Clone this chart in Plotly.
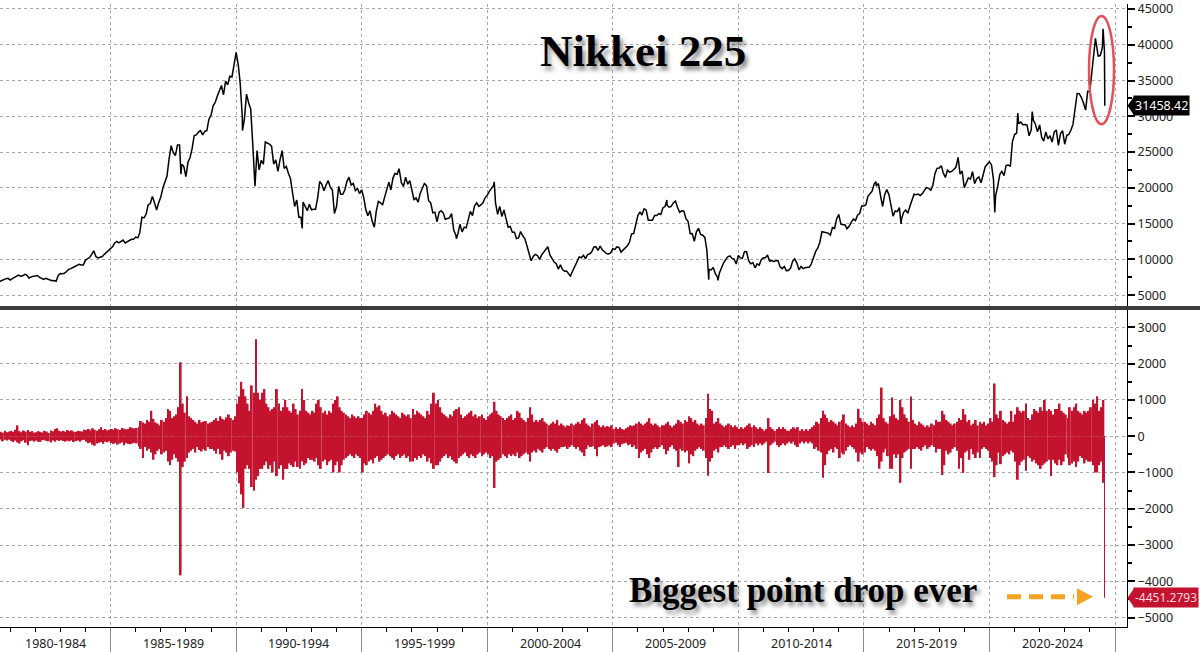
import pandas as pd
import plotly.graph_objects as go

# ---------------- DATA ----------------
# Nikkei 225 month-end closes, Jul 1980 .. Jul 2024
price_close = [
    6900, 7050, 7150, 7300, 7350, 7116,                                        # 1980 Jul-Dec
    7300, 7450, 7600, 7800, 7650, 7700, 7900, 7800, 7400, 7550, 7650, 7681,    # 1981
    7750, 7500, 7300, 7200, 7350, 7250, 7150, 7000, 7050, 6950, 7750, 8016,    # 1982
    8000, 8050, 8300, 8600, 8700, 8900, 9000, 9150, 9300, 9200, 9200, 9894,    # 1983
    10050, 10250, 10700, 11200, 10400, 10200, 10300, 10400, 10700, 11000, 11300, 11543,  # 1984
    11800, 12300, 12500, 12300, 12500, 12700, 12300, 12500, 12700, 12800, 12800, 13113,  # 1985
    13000, 13700, 15900, 15800, 16300, 17600, 17800, 18800, 17900, 16900, 17900, 18701,  # 1986
    20000, 20800, 21600, 24000, 25900, 24900, 24500, 26000, 26000, 23300, 23000, 21564,  # 1987
    23600, 24200, 25500, 27300, 27400, 27800, 28000, 27400, 27900, 28000, 29600, 30159,  # 1988
    31500, 31900, 32800, 33700, 34300, 33000, 34900, 34400, 35600, 35500, 37300, 38916,  # 1989
    37200, 34600, 29900, 29600, 33100, 31900, 31000, 25900, 20984, 25200, 22500, 23849,  # 1990
    23300, 26400, 26300, 26100, 25800, 23300, 23900, 22300, 23900, 25200, 22700, 22984,  # 1991
    22000, 21300, 19300, 17400, 18300, 15900, 15900, 18000, 17400, 16800, 17700, 16925,  # 1992
    17000, 17000, 18600, 20900, 20500, 19600, 20400, 21000, 20100, 19700, 16400, 17417,  # 1993
    20200, 19100, 19100, 19700, 20900, 21500, 20400, 20600, 19600, 19900, 19200, 19723,  # 1994
    18600, 17000, 16100, 16800, 15400, 14500, 16700, 18100, 17900, 17600, 18700, 19868,  # 1995
    20800, 19700, 21400, 22000, 21900, 22500, 20700, 20200, 21500, 20500, 21000, 19361,  # 1996
    18300, 18600, 18000, 19200, 20000, 20600, 20300, 18200, 17900, 16500, 16600, 15259,  # 1997
    16600, 16800, 16500, 15600, 15700, 15800, 16400, 14100, 13400, 13600, 14900, 13842,  # 1998
    14500, 14400, 15800, 16700, 16100, 17500, 17900, 17400, 17600, 17900, 18600, 18934,  # 1999
    19500, 19900, 20300, 17900, 16300, 17400, 16000, 16900, 15700, 14500, 14600, 13786,  # 2000
    13800, 12900, 13000, 13900, 13300, 12900, 11900, 10700, 9800, 10400, 10700, 10543,   # 2001
    9990, 10590, 11030, 11490, 11760, 10620, 10000, 9620, 9380, 8640, 9220, 8579,        # 2002
    8340, 8360, 7970, 7830, 8420, 9080, 9560, 10340, 10220, 10560, 10100, 10677,         # 2003
    10780, 11040, 11720, 11760, 11240, 11860, 11330, 11080, 10820, 10770, 10900, 11489,  # 2004
    11390, 11740, 11670, 11010, 11280, 11580, 11900, 12400, 13570, 13610, 14870, 16111,  # 2005
    16650, 16200, 17060, 16910, 15470, 15510, 15460, 16140, 16130, 16400, 16270, 17226,  # 2006
    17380, 17600, 17290, 17400, 17880, 18140, 17250, 16570, 16790, 16740, 15680, 15308,  # 2007
    13590, 13600, 12530, 13850, 14340, 13480, 13380, 13070, 11260, 8580, 8510, 8860,     # 2008
    7990, 7570, 8110, 8830, 9520, 9960, 10360, 10490, 10130, 10030, 9350, 10546,         # 2009
    10200, 10130, 11090, 11060, 9770, 9380, 9540, 8820, 9370, 9200, 9940, 10229,         # 2010
    10240, 10620, 9760, 9850, 9690, 9820, 9830, 8950, 8700, 8990, 8430, 8455,            # 2011
    8800, 9720, 10080, 9520, 8540, 9010, 8700, 8840, 8870, 8930, 9450, 10395,            # 2012
    11140, 11560, 12400, 13860, 13770, 13680, 13670, 13390, 14460, 14330, 15660, 16291,  # 2013
    14910, 14840, 14830, 14300, 14630, 15160, 15620, 15420, 16170, 16410, 17460, 17451,  # 2014
    17670, 18800, 19210, 19520, 20560, 20240, 20590, 18890, 17390, 19080, 19750, 19034,  # 2015
    17520, 16030, 16760, 16670, 17230, 15580, 16570, 16890, 16450, 17430, 18310, 19114,  # 2016
    19040, 19120, 18910, 19200, 19650, 20030, 19930, 19650, 20360, 22010, 22720, 22765,  # 2017
    23100, 22070, 21450, 22470, 22200, 22300, 22550, 22870, 24120, 21920, 22350, 20015,  # 2018
    20770, 21380, 21210, 22260, 20600, 21280, 21520, 20700, 21760, 22930, 23290, 23657,  # 2019
    23200, 21140, 18920, 20190, 21880, 22290, 21710, 23140, 23190, 22980, 26430, 27444,  # 2020
    27660, 28970, 29180, 28810, 28860, 28790, 27280, 28090, 29450, 28890, 27820, 28792,  # 2021
    27000, 26530, 27820, 26850, 27280, 26390, 27800, 28090, 25940, 27590, 27970, 26095,  # 2022
    27330, 27450, 28040, 28860, 30890, 33190, 33170, 32620, 31860, 30860, 33490, 33464,  # 2023
    36290, 39170, 40370, 38410, 38490, 39580, 39100,                                     # 2024 Jan-Jul
]

# notable intra-month extremes
price_extra_dates = [
    "1987-10-20", "1990-04-02", "1990-10-01", "1992-08-18", "1995-07-03",
    "1996-06-26", "1998-10-09", "2000-04-12", "2003-04-28", "2007-02-26",
    "2008-10-27", "2009-03-10", "2015-06-24", "2016-06-24", "2018-10-02",
    "2020-03-19", "2021-02-16", "2021-09-14", "2024-03-22", "2024-07-11",
    "2024-08-02", "2024-08-05",
]
price_extra_values = [
    21910, 28002, 20222, 14309, 14485,
    22666, 12880, 20833, 7607, 18300,
    7162, 7055, 20868, 14952, 24270,
    16552, 30467, 30670, 40888, 42224,
    35910, 31458.42,
]

# biggest daily gain / loss in each month (points), Jul 1980 .. Jul 2024
change_up = [
    90, 120, 100, 150, 110, 130,                                   # 1980
    150, 120, 180, 300, 140, 110, 160, 130, 170, 120, 140, 100,    # 1981
    110, 140, 120, 100, 150, 130, 90, 160, 140, 200, 220, 150,     # 1982
    130, 150, 120, 170, 140, 160, 130, 120, 150, 140, 130, 180,    # 1983
    170, 200, 160, 220, 180, 150, 190, 250, 170, 200, 160, 180,    # 1984
    200, 180, 220, 190, 170, 230, 210, 190, 200, 250, 230, 210,    # 1985
    230, 260, 420, 380, 350, 450, 400, 700, 480, 380, 350, 300,    # 1986
    450, 400, 500, 750, 700, 500, 550, 600, 800, 2037, 900, 650,   # 1987
    1100, 550, 500, 450, 400, 350, 450, 380, 400, 420, 350, 380,   # 1988
    400, 450, 500, 420, 550, 480, 450, 520, 600, 500, 450, 550,    # 1989
    900, 1100, 1500, 1300, 1100, 900, 700, 1400, 1200, 2676, 1200, 1000,  # 1990
    1200, 1300, 900, 800, 700, 750, 800, 1300, 900, 700, 800, 1000,       # 1991
    800, 700, 650, 900, 750, 600, 700, 1300, 1000, 700, 650, 600,         # 1992
    700, 650, 900, 1000, 800, 650, 700, 600, 700, 650, 900, 1000,         # 1993
    1100, 800, 700, 650, 600, 550, 500, 600, 550, 500, 550, 500,          # 1994
    500, 600, 700, 650, 600, 700, 900, 800, 850, 700, 600, 650,           # 1995
    550, 600, 700, 650, 600, 550, 500, 650, 600, 550, 600, 500,           # 1996
    750, 600, 700, 650, 600, 550, 500, 700, 600, 900, 1200, 900,          # 1997
    1000, 800, 650, 600, 550, 500, 600, 550, 700, 750, 800, 600,          # 1998
    500, 550, 600, 650, 700, 550, 600, 500, 550, 600, 500, 450,           # 1999
    550, 600, 650, 950, 700, 600, 550, 500, 450, 500, 550, 600,           # 2000
    450, 500, 700, 650, 500, 450, 400, 500, 800, 600, 400, 450,           # 2001
    400, 450, 500, 400, 350, 300, 350, 400, 350, 450, 300, 350,           # 2002
    300, 250, 300, 280, 350, 300, 350, 400, 350, 450, 500, 350,           # 2003
    300, 250, 350, 400, 450, 300, 250, 300, 250, 280, 250, 300,           # 2004
    200, 250, 200, 250, 200, 180, 220, 250, 300, 280, 300, 350,           # 2005
    400, 350, 300, 350, 400, 500, 350, 300, 350, 300, 250, 300,           # 2006
    300, 350, 400, 300, 250, 300, 350, 450, 400, 350, 450, 400,           # 2007
    550, 500, 400, 450, 350, 300, 350, 300, 500, 1171, 750, 700,          # 2008
    350, 400, 500, 350, 300, 250, 300, 350, 300, 250, 300, 250,           # 2009
    200, 250, 200, 250, 300, 350, 250, 300, 250, 200, 250, 200,           # 2010
    150, 200, 500, 250, 200, 150, 200, 250, 200, 250, 200, 150,           # 2011
    150, 200, 250, 200, 250, 150, 200, 150, 200, 150, 200, 250,           # 2012
    300, 400, 350, 500, 700, 600, 500, 400, 450, 400, 350, 300,           # 2013
    400, 450, 600, 350, 300, 250, 300, 250, 350, 755, 500, 400,           # 2014
    400, 350, 300, 400, 350, 300, 500, 600, 1343, 500, 400, 350,          # 2015
    550, 1069, 600, 500, 450, 1000, 800, 600, 500, 400, 1092, 450,        # 2016
    350, 300, 400, 350, 300, 250, 300, 250, 350, 300, 450, 400,           # 2017
    400, 700, 600, 450, 400, 350, 300, 350, 400, 500, 450, 750,           # 2018
    600, 400, 450, 300, 350, 450, 300, 400, 350, 400, 300, 350,           # 2019
    500, 400, 1454, 600, 500, 700, 450, 400, 350, 400, 700, 400,          # 2020
    600, 800, 700, 650, 700, 900, 500, 450, 600, 750, 700, 650,           # 2021
    800, 700, 1000, 700, 750, 700, 600, 750, 750, 900, 700, 650,          # 2022
    600, 500, 800, 700, 800, 900, 700, 650, 600, 700, 650, 700,           # 2023
    800, 1000, 900, 1100, 700, 800, 1000,                                 # 2024
]
change_down = [
    -110, -90, -140, -100, -120, -95,                                            # 1980
    -130, -160, -120, -170, -200, -140, -110, -180, -250, -130, -120, -150,      # 1981
    -120, -150, -160, -110, -100, -130, -140, -170, -120, -150, -110, -130,      # 1982
    -110, -130, -150, -120, -140, -110, -160, -130, -120, -150, -110, -100,      # 1983
    -150, -190, -170, -230, -260, -200, -180, -160, -210, -150, -170, -140,      # 1984
    -190, -210, -180, -230, -200, -170, -250, -190, -210, -220, -200, -180,      # 1985
    -200, -280, -350, -600, -300, -400, -350, -450, -650, -500, -400, -350,      # 1986
    -500, -450, -400, -700, -800, -650, -500, -600, -700, -3836, -850, -700,     # 1987
    -600, -450, -400, -350, -450, -300, -380, -420, -350, -400, -300, -350,      # 1988
    -350, -400, -480, -350, -500, -650, -400, -450, -550, -450, -400, -420,      # 1989
    -1000, -1300, -1600, -1978, -900, -800, -900, -1400, -1500, -1200, -1100, -900,  # 1990
    -900, -800, -700, -900, -800, -1000, -700, -1100, -900, -800, -1200, -900,   # 1991
    -900, -750, -800, -850, -700, -850, -900, -700, -800, -750, -600, -650,      # 1992
    -650, -700, -600, -800, -900, -700, -650, -800, -700, -650, -1000, -800,     # 1993
    -700, -1000, -800, -650, -600, -550, -500, -550, -600, -500, -550, -600,     # 1994
    -1000, -750, -800, -700, -650, -750, -600, -550, -700, -650, -600, -550,     # 1995
    -500, -550, -600, -650, -550, -500, -600, -550, -500, -600, -550, -700,      # 1996
    -700, -600, -650, -550, -600, -500, -550, -700, -600, -750, -900, -800,      # 1997
    -800, -700, -600, -550, -500, -600, -550, -650, -700, -750, -600, -550,      # 1998
    -500, -450, -550, -600, -500, -550, -600, -500, -450, -550, -500, -450,      # 1999
    -500, -600, -550, -1426, -700, -650, -600, -500, -550, -600, -500, -550,     # 2000
    -500, -550, -450, -600, -550, -500, -450, -500, -700, -450, -400, -450,      # 2001
    -350, -400, -450, -350, -300, -350, -400, -350, -400, -450, -350, -300,      # 2002
    -300, -280, -350, -300, -250, -300, -350, -300, -400, -450, -550, -350,      # 2003
    -250, -300, -280, -350, -550, -300, -280, -250, -300, -280, -250, -300,      # 2004
    -200, -180, -250, -300, -220, -200, -180, -250, -220, -300, -250, -350,      # 2005
    -600, -450, -400, -350, -500, -600, -450, -350, -300, -350, -300, -250,      # 2006
    -350, -500, -400, -300, -250, -350, -400, -850, -350, -400, -450, -400,      # 2007
    -750, -500, -550, -400, -350, -300, -350, -400, -600, -1089, -700, -600,     # 2008
    -400, -350, -450, -300, -300, -250, -300, -350, -300, -250, -350, -250,      # 2009
    -250, -200, -250, -200, -350, -300, -250, -300, -200, -250, -200, -250,      # 2010
    -200, -150, -1015, -250, -200, -150, -250, -300, -250, -200, -250, -200,     # 2011
    -150, -200, -150, -250, -300, -200, -150, -200, -150, -200, -150, -200,      # 2012
    -350, -300, -400, -450, -1143, -800, -500, -400, -350, -450, -300, -350,     # 2013
    -600, -450, -500, -400, -300, -250, -300, -350, -450, -700, -450, -500,      # 2014
    -450, -300, -350, -400, -350, -400, -550, -895, -700, -450, -350, -550,      # 2015
    -900, -900, -500, -600, -500, -1286, -600, -450, -400, -350, -900, -350,     # 2016
    -350, -300, -350, -400, -300, -250, -350, -300, -250, -300, -450, -350,      # 2017
    -350, -1071, -800, -400, -500, -450, -350, -300, -400, -900, -600, -1010,    # 2018
    -450, -400, -650, -350, -500, -600, -450, -600, -350, -300, -350, -400,      # 2019
    -600, -700, -1128, -800, -450, -770, -550, -500, -450, -500, -400, -450,     # 2020
    -700, -1202, -800, -700, -650, -950, -550, -600, -700, -650, -750, -800,     # 2021
    -900, -800, -750, -700, -650, -1100, -650, -750, -800, -650, -800, -700,     # 2022
    -500, -600, -800, -750, -700, -850, -700, -550, -600, -750, -650, -700,      # 2023
    -700, -800, -1000, -1000, -800, -700, -1285,                                 # 2024
]
# the last two sessions, drawn separately
change_last_dates = ["2024-08-02", "2024-08-05"]
change_last_values = [-2216, -4451.2793]

period_labels = ["1980-1984", "1985-1989", "1990-1994", "1995-1999", "2000-2004",
                 "2005-2009", "2010-2014", "2015-2019", "2020-2024"]
period_starts = [1980, 1985, 1990, 1995, 2000, 2005, 2010, 2015, 2020]

# ---------------- BUILD ----------------
month_start = pd.date_range("1980-07-01", periods=len(price_close), freq="MS")
close_dates = month_start + pd.offsets.MonthEnd(0)
price_df = pd.concat([
    pd.DataFrame({"d": close_dates, "v": price_close}),
    pd.DataFrame({"d": pd.to_datetime(price_extra_dates), "v": price_extra_values}),
]).sort_values("d")

bar_dates = month_start + pd.Timedelta(days=15)

W, H = 1200, 652
ML, MR, MT, MB = 0, 73, 0, 25
PW, PH = W - ML - MR, H - MT - MB


def fx(p):
    return p / PW


def fy(p):
    return (PH - p) / PH


XR = ["1980-08-05", "2025-06-24"]
RED = "#c3132f"
GRID = "#a8a8a8"
TICKFONT = dict(family="Noto Sans", size=12.5, color="#222")

fig = go.Figure()
fig.add_trace(go.Scatter(x=price_df["d"], y=price_df["v"], mode="lines",
                         line=dict(color="black", width=1.5),
                         xaxis="x", yaxis="y", hoverinfo="skip"))
bw = 27 * 86400000
fig.add_trace(go.Bar(x=bar_dates, y=change_up, width=bw, marker=dict(color=RED, line=dict(width=0)),
                     xaxis="x2", yaxis="y2"))
fig.add_trace(go.Bar(x=bar_dates, y=change_down, width=bw, marker=dict(color=RED, line=dict(width=0)),
                     xaxis="x2", yaxis="y2"))
fig.add_trace(go.Bar(x=pd.to_datetime(change_last_dates), y=change_last_values, width=2 * 86400000,
                     marker=dict(color=RED, line=dict(width=0)), xaxis="x2", yaxis="y2"))

grid_vals = [f"{y}-01-01" for y in range(1985, 2026, 5)]
xcommon = dict(range=XR, type="date", tickmode="array", tickvals=grid_vals,
               showgrid=True, gridcolor=GRID, griddash="dot", gridwidth=1,
               zeroline=False, showticklabels=False)

top_dom = [fy(304), 1]
bot_dom = [0, fy(308)]

fig.update_layout(
    width=W, height=H, margin=dict(l=ML, r=MR, t=MT, b=MB),
    paper_bgcolor="white", plot_bgcolor="white", showlegend=False,
    barmode="relative", hovermode=False,
    xaxis=dict(**xcommon, anchor="y", domain=[0, 1], ticks=""),
    xaxis2=dict(**xcommon, anchor="y2", domain=[0, 1], matches="x",
                ticks="outside", ticklen=25, tickcolor="#8a8a8a", tickwidth=1,
                showline=True, linecolor="black", linewidth=1,
                minor=dict(tickmode="linear", tick0="1980-01-01", dtick="M12",
                           ticks="outside", ticklen=4, tickcolor="black", showgrid=False)),
    yaxis=dict(domain=top_dom, anchor="x", side="right", range=[3472, 45694],
               tickmode="linear", tick0=0, dtick=5000, ticks="outside", ticklen=7, tickwidth=2,
               tickcolor="black", showline=True, linecolor="black", linewidth=1,
               showgrid=True, gridcolor=GRID, griddash="dot", zeroline=False,
               tickfont=TICKFONT, tickformat="d", ticklabeloverflow="allow",
               minor=dict(dtick=2500, ticks="outside", ticklen=4, tickcolor="black", showgrid=False)),
    yaxis2=dict(domain=bot_dom, anchor="x2", side="right", range=[-5260, 3479],
                tickmode="linear", tick0=0, dtick=1000, ticks="outside", ticklen=7, tickwidth=2,
                tickcolor="black", showline=True, linecolor="black", linewidth=1,
                showgrid=True, gridcolor=GRID, griddash="dot", zeroline=False,
                tickfont=TICKFONT, tickformat="d", ticklabeloverflow="allow",
                minor=dict(dtick=500, ticks="outside", ticklen=4, tickcolor="black", showgrid=False)),
)

shapes = []
# panel divider
shapes.append(dict(type="line", xref="paper", yref="paper", x0=0, x1=W / PW, y0=fy(306), y1=fy(306),
                   line=dict(color="#3c3c3c", width=4)))
# red ellipse round the latest collapse
shapes.append(dict(type="circle", xref="paper", yref="paper", x0=fx(1089), x1=fx(1114),
                   y0=fy(121), y1=fy(12), line=dict(color="#e4505a", width=2.5)))
# orange dashed arrow
shapes.append(dict(type="line", xref="paper", yref="paper", x0=fx(1007), x1=fx(1074),
                   y0=fy(596.5), y1=fy(596.5), line=dict(color="#f5a320", width=5, dash="14px,8px")))
shapes.append(dict(type="path", xref="paper", yref="paper",
                   path=f"M{fx(1077)},{fy(588)} L{fx(1093)},{fy(596.5)} L{fx(1077)},{fy(605)} Z",
                   fillcolor="#f5a320", line=dict(width=0)))
# label pointers
last_price = price_extra_values[-1]
last_change = change_last_values[-1]
shapes.append(dict(type="path", xref="paper", yref="y",
                   path=f"M{fx(1127.5)},{last_price} L{fx(1134)},{last_price + 1300} "
                        f"L{fx(1134)},{last_price - 1300} Z",
                   fillcolor="black", line=dict(width=0)))
shapes.append(dict(type="path", xref="paper", yref="y2",
                   path=f"M{fx(1127.5)},{last_change} L{fx(1134)},{last_change + 255} "
                        f"L{fx(1134)},{last_change - 255} Z",
                   fillcolor=RED, line=dict(width=0)))
fig.update_layout(shapes=shapes)

ann = []
ann.append(dict(text="Nikkei 225", xref="paper", yref="paper", x=fx(643), y=fy(47),
                showarrow=False, xanchor="center", yanchor="middle",
                font=dict(family="Liberation Serif", size=45, color="black", weight="bold",
                          shadow="3px 4px 4px rgba(0,0,0,0.45)")))
ann.append(dict(text="Biggest point drop ever", xref="paper", yref="paper", x=fx(803), y=fy(590),
                showarrow=False, xanchor="center", yanchor="middle",
                font=dict(family="Liberation Serif", size=35, color="black", weight="bold",
                          shadow="3px 4px 4px rgba(0,0,0,0.45)")))
ann.append(dict(text=f"{last_price:.2f}", xref="paper", yref="y", x=fx(1133), y=last_price,
                showarrow=False, xanchor="left", yanchor="middle", bgcolor="black",
                font=dict(family="Noto Sans", size=12.5, color="white"), borderpad=1))
ann.append(dict(text=f"{last_change:.4f}", xref="paper", yref="y2", x=fx(1133), y=last_change,
                showarrow=False, xanchor="left", yanchor="middle", bgcolor=RED,
                font=dict(family="Noto Sans", size=12, color="#ffd8dc"), borderpad=1))
# period labels under the axis
x_start = pd.Timestamp(XR[0])
for lab, y0 in zip(period_labels, period_starts):
    a = max(pd.Timestamp(f"{y0}-01-01"), x_start)
    b = pd.Timestamp(f"{y0 + 5}-01-01")
    mid = a + (b - a) / 2
    ann.append(dict(text=lab, xref="x2", yref="paper", x=mid, y=fy(644),
                    showarrow=False, xanchor="center", yanchor="middle",
                    font=dict(family="Noto Sans", size=12.5, color="#222")))
fig.update_layout(annotations=ann)

fig.write_html("out.html", config={"displayModeBar": False},
               post_script="document.body.style.margin='0';document.body.style.overflow='hidden';")
